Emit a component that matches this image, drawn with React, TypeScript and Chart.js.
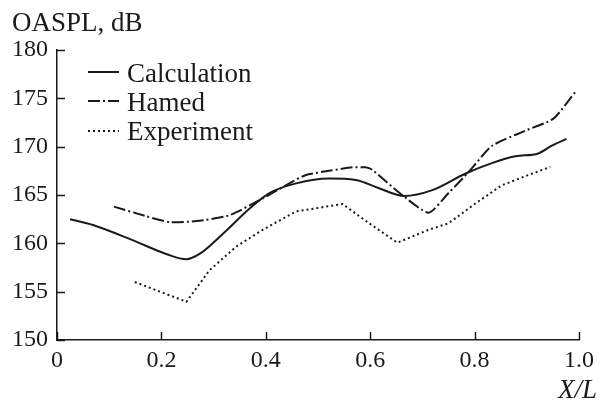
import React, { useEffect, useRef } from "react";
import { Chart, registerables } from "chart.js";

Chart.register(...registerables);

const calcX = [0.025, 0.069, 0.146, 0.209, 0.248, 0.273, 0.318, 0.369, 0.407, 0.458, 0.521, 0.572, 0.617, 0.665, 0.719, 0.782, 0.833, 0.878, 0.922, 0.948, 0.976];
const calcY = [162.5, 161.9, 160.3, 158.9, 158.35, 158.9, 161.0, 163.6, 165.2, 166.2, 166.7, 166.55, 165.7, 164.9, 165.5, 167.2, 168.3, 169.0, 169.3, 170.1, 170.8];

const hamedX = [0.109, 0.171, 0.216, 0.267, 0.33, 0.394, 0.445, 0.477, 0.521, 0.566, 0.591, 0.604, 0.661, 0.712, 0.75, 0.789, 0.833, 0.897, 0.951, 0.995];
const hamedY = [163.8, 162.8, 162.2, 162.3, 162.9, 164.65, 166.2, 167.07, 167.5, 167.86, 167.86, 167.6, 165.0, 163.17, 165.2, 167.4, 170.07, 171.65, 172.9, 175.8];

const expX = [0.149, 0.248, 0.292, 0.343, 0.394, 0.458, 0.547, 0.598, 0.652, 0.712, 0.75, 0.801, 0.852, 0.903, 0.945];
const expY = [156.0, 153.96, 157.2, 159.65, 161.4, 163.3, 164.07, 162.07, 160.07, 161.4, 162.07, 164.1, 166.0, 167.07, 167.9];

const seriesNames = ["Calculation", "Hamed", "Experiment"];
const yTitle = "OASPL, dB";
const xTitle = "X/L";

const INK = "#1a1a1a";
const FONT = "'Liberation Serif', 'Times New Roman', serif";

const toPts = (xs: number[], ys: number[]) => xs.map((x, i) => ({ x, y: ys[i] }));

const dashes: number[][] = [[], [12, 3, 2, 3], [2, 3]];

const overlay = {
  id: "overlay",
  afterDraw(chart: any) {
    const ctx = chart.ctx;
    const xs = chart.scales.x;
    const ys = chart.scales.y;
    const area = chart.chartArea;
    ctx.save();
    ctx.strokeStyle = INK;
    ctx.lineWidth = 1.5;
    ctx.setLineDash([]);
    xs.ticks.forEach((t: any) => {
      const px = Math.round(xs.getPixelForValue(t.value)) + 0.5;
      ctx.beginPath();
      ctx.moveTo(px, area.bottom);
      ctx.lineTo(px, area.bottom - 8);
      ctx.stroke();
    });
    ys.ticks.forEach((t: any) => {
      const py = Math.round(ys.getPixelForValue(t.value)) + 0.5;
      ctx.beginPath();
      ctx.moveTo(area.left, py);
      ctx.lineTo(area.left + 8, py);
      ctx.stroke();
    });
    ctx.fillStyle = INK;
    ctx.font = `27px ${FONT}`;
    ctx.textAlign = "left";
    ctx.textBaseline = "alphabetic";
    ctx.fillText(yTitle, 12, 31);
    ctx.font = `italic 27px ${FONT}`;
    ctx.textAlign = "right";
    ctx.fillText(xTitle, 597, 398);
    const lineY = [72, 101, 131];
    const textBase = [82, 111, 140];
    chart.data.datasets.forEach((ds: any, i: number) => {
      ctx.strokeStyle = INK;
      ctx.lineWidth = 2;
      ctx.setLineDash(dashes[i]);
      ctx.beginPath();
      ctx.moveTo(88, lineY[i]);
      ctx.lineTo(119, lineY[i]);
      ctx.stroke();
      ctx.setLineDash([]);
      ctx.font = `27px ${FONT}`;
      ctx.textAlign = "left";
      ctx.fillStyle = INK;
      ctx.fillText(ds.label, 127, textBase[i]);
    });
    ctx.restore();
  },
};

export default function App() {
  const ref = useRef<HTMLCanvasElement | null>(null);
  useEffect(() => {
    if (!ref.current) return;
    const chart = new Chart(ref.current, {
      type: "line",
      data: {
        datasets: [
          {
            label: seriesNames[0],
            data: toPts(calcX, calcY),
            borderColor: INK,
            borderWidth: 2,
            pointRadius: 0,
            tension: 0.4,
            cubicInterpolationMode: "monotone",
          },
          {
            label: seriesNames[1],
            data: toPts(hamedX, hamedY),
            borderColor: INK,
            borderWidth: 2,
            borderDash: dashes[1],
            pointRadius: 0,
            tension: 0.2,
          },
          {
            label: seriesNames[2],
            data: toPts(expX, expY),
            borderColor: INK,
            borderWidth: 2,
            borderDash: dashes[2],
            pointRadius: 0,
            tension: 0,
          },
        ],
      },
      options: {
        animation: false,
        responsive: false,
        layout: { padding: { top: 50, right: 19, left: 0, bottom: 0 } },
        plugins: { legend: { display: false }, title: { display: false }, tooltip: { enabled: false } },
        scales: {
          x: {
            type: "linear",
            min: 0,
            max: 1,
            grid: { display: false, drawTicks: false },
            border: { display: true, color: INK, width: 1.5 },
            ticks: {
              stepSize: 0.2,
              color: INK,
              padding: 6,
              maxRotation: 0,
              font: { family: FONT, size: 24 },
              callback: (v: any) => (v === 0 ? "0" : Number(v).toFixed(1)),
            },
            afterFit: (s: any) => {
              s.height = 62;
            },
          },
          y: {
            min: 150,
            max: 180,
            grid: { display: false, drawTicks: false },
            border: { display: true, color: INK, width: 1.5 },
            ticks: {
              stepSize: 5,
              color: INK,
              padding: 9,
              font: { family: FONT, size: 24 },
            },
            afterFit: (s: any) => {
              s.width = 57;
            },
          },
        },
      },
      plugins: [overlay],
    } as any);
    return () => chart.destroy();
  }, []);
  return (
    <div style={{ position: "absolute", left: 0, top: 0, width: 600, height: 402, background: "#fff" }}>
      <canvas ref={ref} width={600} height={402} />
    </div>
  );
}
